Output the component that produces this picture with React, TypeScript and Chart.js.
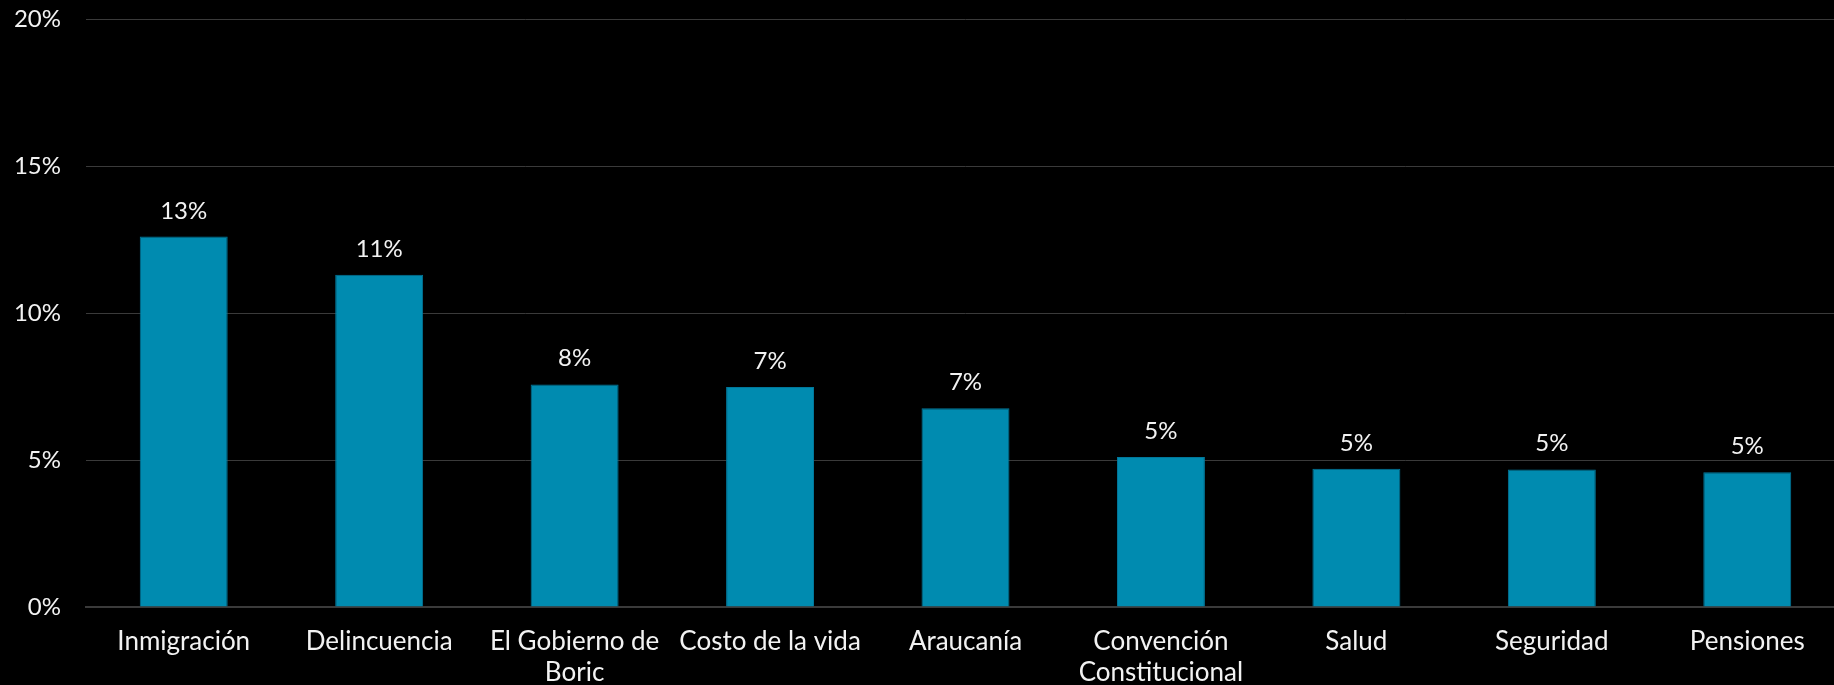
import React, { useEffect, useRef } from "react";
import { Chart, registerables } from "chart.js";

Chart.register(...registerables);

const categories: (string | string[])[] = [
  "Inmigración",
  "Delincuencia",
  ["El Gobierno de", "Boric"],
  "Costo de la vida",
  "Araucanía",
  ["Convención", "Constitucional"],
  "Salud",
  "Seguridad",
  "Pensiones",
];

const values: number[] = [12.6, 11.3, 7.57, 7.48, 6.76, 5.1, 4.7, 4.68, 4.58];

const yTicks: number[] = [0, 5, 10, 15, 20];

const FONT = "Lato";
const TEXT = "#f2f2f2";

const valueLabels = {
  id: "valueLabels",
  afterDatasetsDraw(chart: any) {
    const ctx = chart.ctx;
    const meta = chart.getDatasetMeta(0);
    ctx.save();
    ctx.font = `24px ${FONT}`;
    ctx.fillStyle = TEXT;
    ctx.textAlign = "center";
    ctx.textBaseline = "alphabetic";
    meta.data.forEach((el: any, i: number) => {
      const v = chart.data.datasets[0].data[i] as number;
      ctx.fillText(`${Math.round(v)}%`, el.x, el.y - 18);
    });
    ctx.restore();
  },
};

export default function App() {
  const ref = useRef<HTMLCanvasElement | null>(null);

  useEffect(() => {
    document.body.style.margin = "0";
    document.body.style.background = "#000";
    const canvas = ref.current;
    if (!canvas) return;
    const chart = new Chart(canvas, {
      type: "bar",
      data: {
        labels: categories,
        datasets: [
          {
            data: values,
            backgroundColor: "#008BB0",
            borderColor: "#00779a",
            borderWidth: 1,
            categoryPercentage: 1,
            barPercentage: 0.45,
          },
        ],
      },
      plugins: [valueLabels],
      options: {
        animation: false,
        responsive: false,
        devicePixelRatio: 1,
        layout: { padding: 0 },
        plugins: {
          legend: { display: false },
          tooltip: { enabled: false },
        },
        scales: {
          x: {
            grid: { display: false, drawTicks: false },
            border: { display: true, color: "#3a3a3a", width: 2 },
            ticks: {
              color: TEXT,
              font: { family: FONT, size: 26, lineHeight: 1.2 },
              padding: 19,
              maxRotation: 0,
              autoSkip: false,
            },
            afterFit: (scale: any) => {
              scale.height = 78;
            },
          },
          y: {
            min: 0,
            max: 20,
            afterBuildTicks: (scale: any) => {
              scale.ticks = yTicks.map((v) => ({ value: v }));
            },
            grid: { color: "#3a3a3a", lineWidth: 1, drawTicks: false },
            border: { display: false },
            ticks: {
              color: TEXT,
              font: { family: FONT, size: 24 },
              padding: 25,
              callback: (v: any) => `${v}%`,
            },
            afterFit: (scale: any) => {
              scale.width = 86;
              scale.paddingTop = 19;
              scale.paddingBottom = 0;
            },
          },
        },
      },
    });
    return () => chart.destroy();
  }, []);

  return (
    <div
      style={{
        width: 1834,
        height: 685,
        overflow: "hidden",
        background: "#000",
        position: "relative",
      }}
    >
      <canvas
        ref={ref}
        width={1845}
        height={685}
        style={{ display: "block", width: 1845, height: 685 }}
      />
    </div>
  );
}
